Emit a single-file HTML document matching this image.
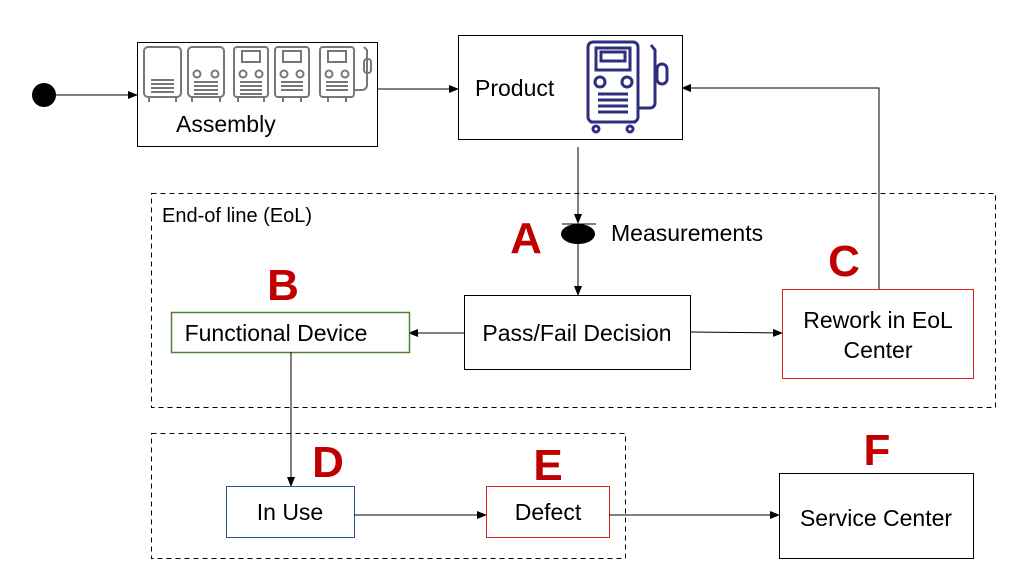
<!DOCTYPE html>
<html><head><meta charset="utf-8"><style>
html,body{margin:0;padding:0;background:#fff}
svg{display:block}
text{font-family:"Liberation Sans",sans-serif;}
</style></head><body>
<svg width="1026" height="587" viewBox="0 0 1026 587" xmlns="http://www.w3.org/2000/svg">
<defs>
<marker id="ar" markerWidth="10" markerHeight="8" refX="9" refY="4" orient="auto" markerUnits="userSpaceOnUse">
<path d="M0,0 L10,4 L0,8 z" fill="#000"/></marker>
</defs>
<rect width="1026" height="587" fill="#fff"/>
<rect x="151.5" y="193.5" width="844" height="214" fill="none" stroke="#000" stroke-dasharray="5,4"/>
<rect x="151.5" y="433.5" width="474" height="125" fill="none" stroke="#000" stroke-dasharray="5,4"/>
<circle cx="44" cy="95" r="12" fill="#000"/>
<line x1="56" y1="95" x2="137" y2="95" stroke="#000" marker-end="url(#ar)"/>
<rect x="137.5" y="42.5" width="240" height="104" fill="#fff" stroke="#000"/>
<g fill="none" stroke="#777" stroke-width="2">
 <rect x="144" y="47" width="37" height="50" rx="4"/>
 <path d="M151 80h23M151 84h23M151 88h23M151 92h23M149 97v5M176 97v5"/>
 <rect x="188" y="47" width="36" height="50" rx="4"/>
 <circle cx="197" cy="74" r="3.5"/><circle cx="215" cy="74" r="3.5"/>
 <path d="M194 82h24M194 86h24M194 90h24M194 94h24M192 97v5M220 97v5"/>
 <rect x="234" y="47" width="34" height="50" rx="3"/>
 <rect x="242" y="51" width="18" height="11"/>
 <circle cx="243" cy="74" r="3.5"/><circle cx="259" cy="74" r="3.5"/>
 <path d="M240 82h22M240 86h22M240 90h22M240 94h22M238 97v5M264 97v5"/>
 <rect x="275" y="47" width="34" height="50" rx="3"/>
 <rect x="283" y="51" width="18" height="11"/>
 <circle cx="284" cy="74" r="3.5"/><circle cx="300" cy="74" r="3.5"/>
 <path d="M281 82h22M281 86h22M281 90h22M279 97h26M283 97v5M301 97v5"/>
 <rect x="320" y="47" width="34" height="50" rx="3"/>
 <rect x="328" y="51" width="18" height="11"/>
 <circle cx="329" cy="74" r="3.5"/><circle cx="345" cy="74" r="3.5"/>
 <path d="M326 82h22M326 86h22M326 90h22M324 97h26M328 97v5M346 97v5"/>
 <path d="M354 90h8a5 5 0 0 0 5-5V50l-3-3"/>
 <rect x="364" y="59" width="7" height="14" rx="3"/>
</g>
<text x="176" y="132" font-size="23">Assembly</text>
<line x1="377" y1="89" x2="458" y2="89" stroke="#000" marker-end="url(#ar)"/>
<rect x="458.5" y="35.5" width="224" height="104" fill="#fff" stroke="#000"/>
<text x="475" y="96" font-size="23">Product</text>
<g fill="none" stroke="#2e2e7e" stroke-width="3">
 <rect x="588" y="42" width="50" height="80" rx="5"/>
 <rect x="596" y="48" width="34" height="22"/>
 <rect x="601" y="52" width="24" height="9"/>
 <circle cx="600" cy="82" r="5"/><circle cx="627" cy="82" r="5"/>
 <path d="M598 94h30M598 100h30M598 106h30M598 112h30M590 122h46"/>
 <circle cx="596" cy="129" r="3"/><circle cx="630" cy="129" r="3"/>
 <path d="M638 108h12a5 5 0 0 0 5-5V50l-4-5"/>
 <rect x="657" y="64" width="10" height="20" rx="5"/>
</g>
<polyline points="879,289 879,88 682,88" fill="none" stroke="#000" marker-end="url(#ar)"/>
<line x1="578" y1="147" x2="578" y2="223" stroke="#000" marker-end="url(#ar)"/>
<line x1="562" y1="224" x2="596" y2="224" stroke="#000"/>
<ellipse cx="578" cy="234" rx="17" ry="10" fill="#000"/>
<line x1="578" y1="244" x2="578" y2="295" stroke="#000" marker-end="url(#ar)"/>
<text x="611" y="241" font-size="23">Measurements</text>
<text x="162" y="222" font-size="20">End-of line (EoL)</text>
<rect x="464.5" y="295.5" width="226" height="74" fill="#fff" stroke="#000"/>
<text x="577" y="341" font-size="23" text-anchor="middle">Pass/Fail Decision</text>
<line x1="464" y1="333" x2="409" y2="333" stroke="#000" marker-end="url(#ar)"/>
<line x1="690" y1="332" x2="782" y2="333" stroke="#000" marker-end="url(#ar)"/>
<rect x="171.5" y="312.5" width="238" height="40" fill="#fff" stroke="#548235" stroke-width="1.5"/>
<text x="276" y="341" font-size="23" text-anchor="middle">Functional Device</text>
<rect x="782.5" y="289.5" width="191" height="89" fill="#fff" stroke="#e02020"/>
<text x="878" y="328" font-size="23" text-anchor="middle">Rework in EoL</text>
<text x="878" y="358" font-size="23" text-anchor="middle">Center</text>
<line x1="291" y1="352" x2="291" y2="486" stroke="#000" marker-end="url(#ar)"/>
<rect x="226.5" y="486.5" width="128" height="51" fill="#fff" stroke="#2f5597"/>
<text x="290" y="520" font-size="23" text-anchor="middle">In Use</text>
<line x1="354" y1="515" x2="486" y2="515" stroke="#000" marker-end="url(#ar)"/>
<rect x="486.5" y="486.5" width="123" height="51" fill="#fff" stroke="#e02020"/>
<text x="548" y="520" font-size="23" text-anchor="middle">Defect</text>
<line x1="609" y1="515" x2="779" y2="515" stroke="#000" marker-end="url(#ar)"/>
<rect x="779.5" y="473.5" width="194" height="85" fill="#fff" stroke="#000"/>
<text x="876" y="526" font-size="23" text-anchor="middle">Service Center</text>
<g fill="#c00000" font-size="44" font-weight="bold" text-anchor="middle">
<text x="526" y="253">A</text>
<text x="283" y="300">B</text>
<text x="844" y="276">C</text>
<text x="328" y="477">D</text>
<text x="548" y="480">E</text>
<text x="877" y="465">F</text>
</g>
</svg>
</body></html>
